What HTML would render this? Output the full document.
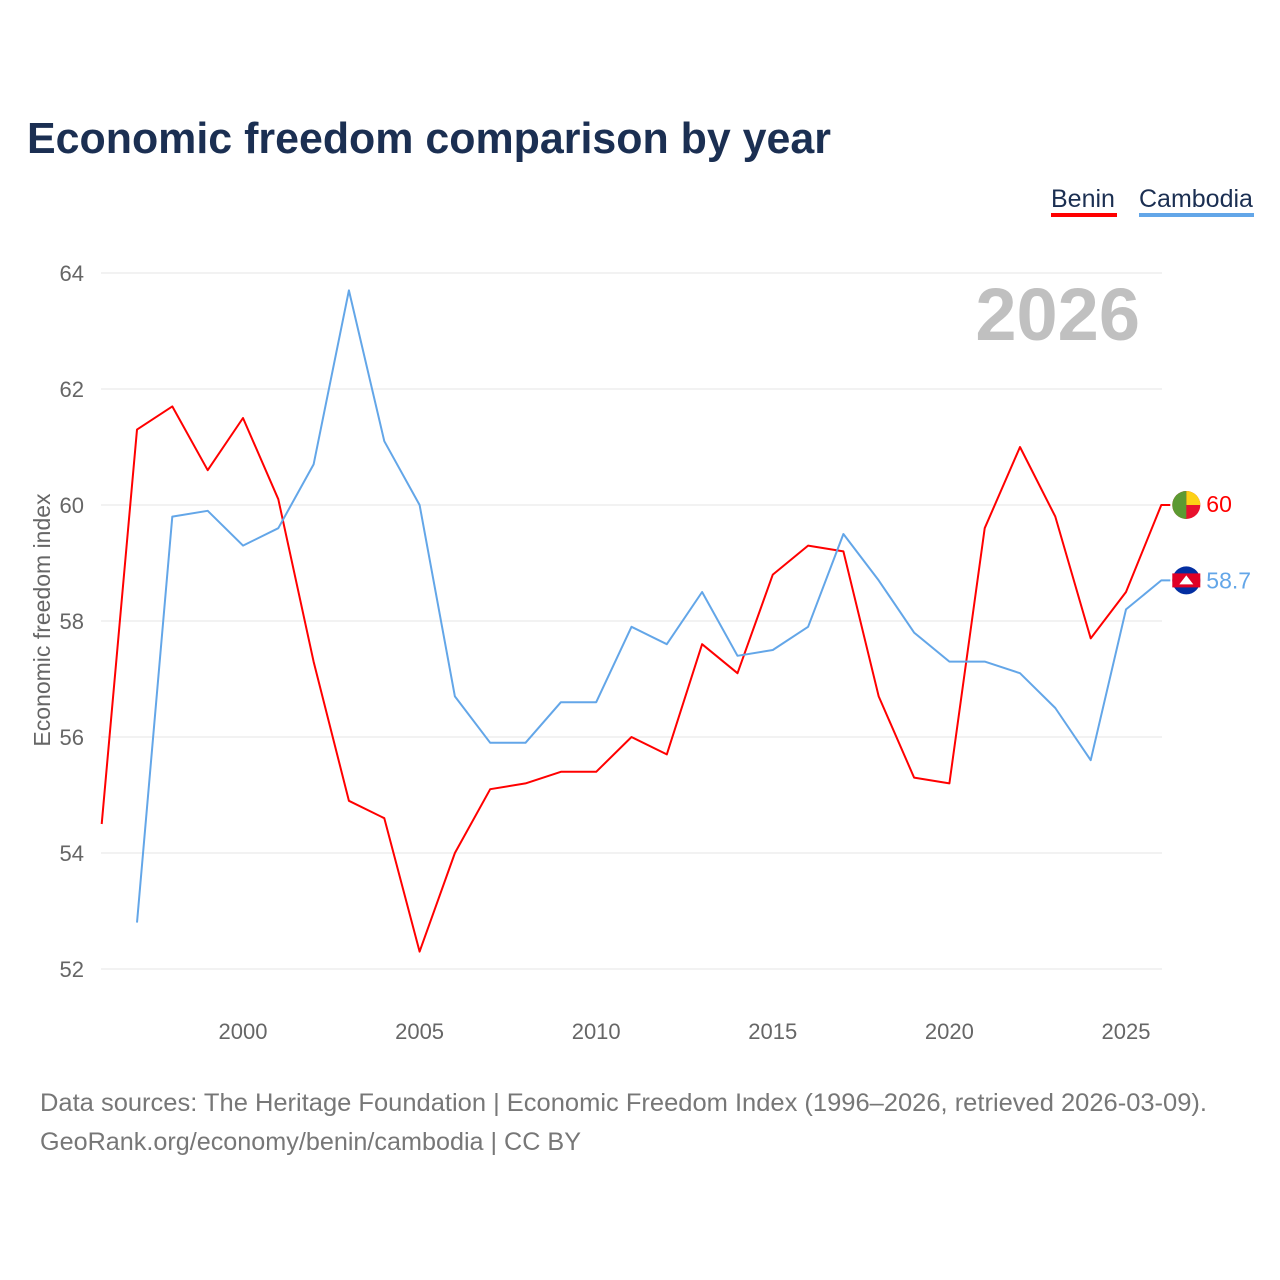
<!DOCTYPE html>
<html><head><meta charset="utf-8">
<style>
body{margin:0;background:#fff;font-family:"Liberation Sans",sans-serif;}
#wrap{position:relative;width:1280px;height:1280px;overflow:hidden;}
</style></head>
<body>
<div id="wrap">
<svg id="chart" width="1280" height="1280" xmlns="http://www.w3.org/2000/svg">
<text x="27" y="153" font-size="44" font-weight="bold" fill="#1b2f52" textLength="804" lengthAdjust="spacingAndGlyphs">Economic freedom comparison by year</text>
<g>
<text x="1051" y="207" font-size="25" fill="#1b2f52">Benin</text>
<rect x="1051" y="213" width="66" height="4" fill="#ff0000"/>
</g>
<g>
<text x="1139" y="207" font-size="25" fill="#1b2f52">Cambodia</text>
<rect x="1139" y="213" width="115" height="4" fill="#63a6e8"/>
</g>
<text x="1140" y="340" font-size="74" font-weight="bold" fill="#c0c0c0" text-anchor="end">2026</text>
<g id="grid"></g>
<g id="yticks"></g>
<g id="xticks"></g>
<text transform="translate(50,620) rotate(-90)" font-size="23" fill="#666" text-anchor="middle">Economic freedom index</text>
<g id="series"></g>
<text x="40" y="1111" font-size="25" fill="#777" textLength="1167" lengthAdjust="spacingAndGlyphs">Data sources: The Heritage Foundation | Economic Freedom Index (1996–2026, retrieved 2026-03-09).</text>
<text x="40" y="1150" font-size="25" fill="#777" textLength="541" lengthAdjust="spacingAndGlyphs">GeoRank.org/economy/benin/cambodia | CC BY</text>
</svg>
</div>
<script>
const years = [];
for (let y = 1996; y <= 2026; y++) years.push(y);
const benin = [54.5,61.3,61.7,60.6,61.5,60.1,57.3,54.9,54.6,52.3,54.0,55.1,55.2,55.4,55.4,56.0,55.7,57.6,57.1,58.8,59.3,59.2,56.7,55.3,55.2,59.6,61.0,59.8,57.7,58.5,60.0];
const cambodia = [null,52.8,59.8,59.9,59.3,59.6,60.7,63.7,61.1,60.0,56.7,55.9,55.9,56.6,56.6,57.9,57.6,58.5,57.4,57.5,57.9,59.5,58.7,57.8,57.3,57.3,57.1,56.5,55.6,58.2,58.7];
const yTicks = [52,54,56,58,60,62,64];
const xTicks = [2000,2005,2010,2015,2020,2025];
const NS = "http://www.w3.org/2000/svg";
function xs(y){ return 101.7 + (y-1996)*35.32; }
function ys(v){ return 273 + (64-v)*58; }
function mk(tag, attrs, parent){ const e=document.createElementNS(NS,tag); for(const k in attrs) e.setAttribute(k,attrs[k]); parent.appendChild(e); return e; }
const grid=document.getElementById('grid'), yt=document.getElementById('yticks'), xt=document.getElementById('xticks'), ser=document.getElementById('series');
yTicks.forEach(v=>{
  const l=mk('line',{x1:101,x2:1162,y1:ys(v),y2:ys(v),stroke:'#e6e6e6','stroke-width':1},grid);
  
  
  const t=mk('text',{x:84,y:ys(v)+8,'font-size':22,fill:'#666','text-anchor':'end'},yt);
  t.textContent=v;
  
  
});
xTicks.forEach(v=>{
  const t=mk('text',{x:xs(v),y:1039,'font-size':22,fill:'#666','text-anchor':'middle'},xt);
  t.textContent=v;
  
  
});
function line(data,color,name){
  let d='';
  data.forEach((v,i)=>{ if(v==null) return; d += (d?'L':'M') + xs(years[i]).toFixed(1)+','+ys(v).toFixed(1); });
  const last=data[data.length-1];
  d += 'L'+(xs(years[years.length-1])+9).toFixed(1)+','+ys(last).toFixed(1);
  const p=mk('path',{d:d,fill:'none',stroke:color,'stroke-width':2,'stroke-linejoin':'round'},ser);
  
  
}
line(benin,'#ff0000','line-benin');
line(cambodia,'#63a6e8','line-cambodia');
const bl=benin[benin.length-1], cl=cambodia[cambodia.length-1];
const bx=xs(2026)+25;
const fb=mk('g',{},ser);


mk('circle',{cx:bx,cy:ys(bl),r:14,fill:'#e8112d'},fb);
mk('path',{d:`M${bx},${ys(bl)-14} A14,14 0 0 1 ${bx+14},${ys(bl)} L${bx},${ys(bl)} Z`,fill:'#fcd116'},fb);
mk('path',{d:`M${bx},${ys(bl)-14} A14,14 0 0 0 ${bx},${ys(bl)+14} Z`,fill:'#5c9a32'},fb);
const fc=mk('g',{},ser);


mk('circle',{cx:bx,cy:ys(cl),r:14,fill:'#032ea1'},fc);
mk('rect',{x:bx-14,y:ys(cl)-7,width:28,height:14,fill:'#e00025'},fc);
mk('path',{d:`M${bx-7},${ys(cl)+4} L${bx},${ys(cl)-5} L${bx+7},${ys(cl)+4} Z`,fill:'#fff'},fc);
const tb=mk('text',{x:bx+20,y:ys(bl)+7,'font-size':23,fill:'#ff0000'},ser);
tb.textContent=bl;


const tc=mk('text',{x:bx+20,y:ys(cl)+8,'font-size':23,fill:'#63a6e8'},ser);
tc.textContent=cl;


</script>
</body></html>
